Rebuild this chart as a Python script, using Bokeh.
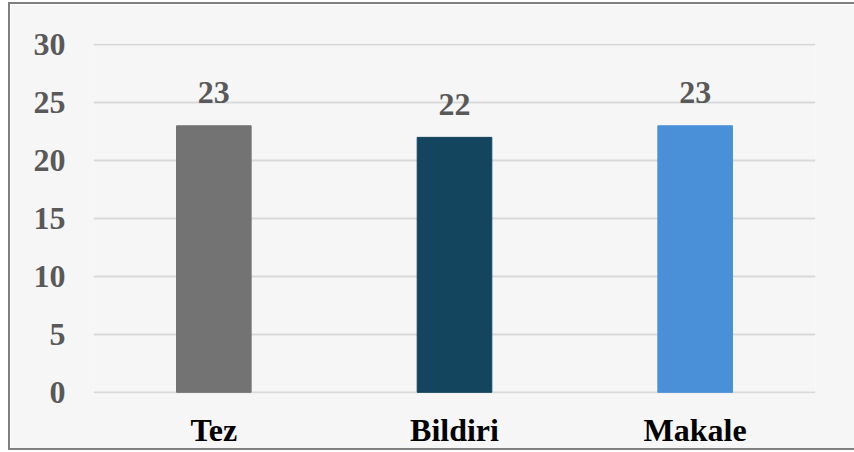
from bokeh.plotting import figure
from bokeh.models import ColumnDataSource, Range1d, FixedTicker
from bokeh.core.properties import value
from bokeh.embed import file_html
from bokeh.resources import INLINE

categories = ["Tez", "Bildiri", "Makale"]
counts = [23, 22, 23]
colors = ["#737373", "#14455E", "#4A90D9"]
y_ticks = [0, 5, 10, 15, 20, 25, 30]

src = ColumnDataSource(dict(cat=categories, val=counts, col=colors,
                            lab=[str(v) for v in counts]))

p = figure(x_range=categories, y_range=Range1d(-0.1, 30.1), width=846, height=448,
           output_backend="svg", toolbar_location=None,
           min_border_left=83, min_border_right=41, min_border_top=39, min_border_bottom=59)
p.background_fill_color = "#F6F6F6"
p.border_fill_color = "#F6F6F6"
p.outline_line_color = None
p.styles = {"border-left": "2px solid #7F7F7F", "border-top": "2px solid #7F7F7F",
            "border-bottom": "2px solid #7F7F7F", "box-sizing": "border-box",
            "margin-left": "8px", "margin-top": "2px"}

p.vbar(x="cat", top="val", width=0.31, color="col", source=src)
p.text(x="cat", y="val", text="lab", source=src, text_align="center",
       text_baseline="alphabetic", y_offset=-33,
       text_font=value("Liberation Serif"), text_font_style="bold",
       text_font_size="32px", text_color="#595959")

p.yaxis.ticker = FixedTicker(ticks=y_ticks)
p.yaxis.axis_line_color = None
p.yaxis.major_tick_line_color = None
p.yaxis.minor_tick_line_color = None
p.yaxis.major_label_text_font = "Liberation Serif"
p.yaxis.major_label_text_font_style = "bold"
p.yaxis.major_label_text_font_size = "32px"
p.yaxis.major_label_text_color = "#595959"
p.yaxis.major_label_standoff = 22

p.xaxis.axis_line_color = None
p.xaxis.major_tick_line_color = None
p.xaxis.major_label_text_font = "Liberation Serif"
p.xaxis.major_label_text_font_style = "bold"
p.xaxis.major_label_text_font_size = "32px"
p.xaxis.major_label_text_color = "#000000"
p.xaxis.major_label_standoff = 12

p.xgrid.grid_line_color = None
p.ygrid.grid_line_color = "#D9D9D9"
p.ygrid.grid_line_width = 2

open("out.html", "w").write(file_html(p, INLINE))
